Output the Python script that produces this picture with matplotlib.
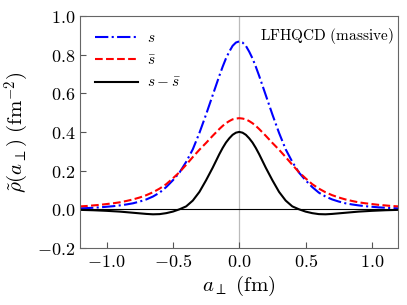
import numpy as np
import matplotlib
matplotlib.use("Agg")
import matplotlib.pyplot as plt

plt.rcParams['mathtext.fontset'] = 'cm'
plt.rcParams['font.family'] = ['DejaVu Serif']

# half-profile positions (fm), mirrored for the full curve
a_half = [0.0, 0.025, 0.05, 0.075, 0.1, 0.125, 0.15, 0.2, 0.25, 0.3, 0.35, 0.4, 0.45,
          0.5, 0.55, 0.6, 0.65, 0.7, 0.75, 0.8, 0.85, 0.9, 0.95, 1.0, 1.05, 1.1,
          1.15, 1.2]
s_half = [0.868, 0.862, 0.845, 0.815, 0.78, 0.737, 0.69, 0.59, 0.49, 0.395, 0.31,
          0.245, 0.19, 0.15, 0.115, 0.086, 0.066, 0.051, 0.04, 0.031, 0.025, 0.02,
          0.016, 0.013, 0.01, 0.008, 0.006, 0.005]
sbar_half = [0.471, 0.469, 0.465, 0.456, 0.445, 0.431, 0.415, 0.38, 0.343, 0.308,
             0.27, 0.23, 0.192, 0.16, 0.13, 0.107, 0.088, 0.073, 0.061, 0.051,
             0.043, 0.036, 0.031, 0.027, 0.023, 0.02, 0.017, 0.015]
diff_half = [0.40, 0.396, 0.385, 0.367, 0.345, 0.317, 0.285, 0.215, 0.15, 0.09,
             0.045, 0.015, 0.0, -0.012, -0.02, -0.025, -0.026, -0.024, -0.021,
             -0.018, -0.015, -0.012, -0.01, -0.008, -0.0065, -0.005, -0.004, -0.003]

labels = [r'$s$', r'$\bar{s}$', r'$s-\bar{s}$']
xticks = [-1.0, -0.5, 0.0, 0.5, 1.0]
yticks = [-0.2, 0.0, 0.2, 0.4, 0.6, 0.8, 1.0]


def full(xh, yh):
    x = np.concatenate([-np.array(xh[:0:-1]), np.array(xh)])
    y = np.concatenate([np.array(yh[:0:-1]), np.array(yh)])
    return x, y


fig = plt.figure(figsize=(4.07, 3.05), dpi=100)
ax = fig.add_axes([0.1966, 0.187, 0.7824, 0.761])

ax.axvline(0, color='#bbbbbb', lw=0.9, zorder=1)
ax.axhline(0, color='black', lw=0.8, zorder=1)

x, y = full(a_half, s_half)
ax.plot(x, y, color='blue', ls='-.', lw=1.5, label=labels[0])
x, y = full(a_half, sbar_half)
ax.plot(x, y, color='red', ls='--', lw=1.5, label=labels[1])
x, y = full(a_half, diff_half)
ax.plot(x, y, color='black', ls='-', lw=1.5, label=labels[2])

ax.set_xlim(-1.2, 1.2)
ax.set_ylim(-0.2, 1.0)
ax.set_xticks(xticks)
ax.set_xticklabels([f'${v:.1f}$' for v in xticks])
ax.set_yticks(yticks)
ax.set_yticklabels([f'${v:.1f}$' for v in yticks])
ax.tick_params(direction='in', labelsize=13, length=4, color='#555555')
for sp in ax.spines.values():
    sp.set_color('#666666')

ax.set_xlabel(r'$a_{\perp}\ (\mathrm{fm})$', fontsize=15, labelpad=2)
ax.set_ylabel(r'$\tilde{\rho}(a_{\perp})\ (\mathrm{fm}^{-2})$', fontsize=15, labelpad=4)

ax.text(0.985, 0.955, r'$\mathrm{LFHQCD\ (massive)}$', transform=ax.transAxes,
        ha='right', va='top', fontsize=11)

leg = ax.legend(loc='upper left', frameon=False, fontsize=11, handlelength=2.8,
                handletextpad=0.6, labelspacing=0.55, borderaxespad=0.6)

fig.savefig('out.png', dpi=100)
